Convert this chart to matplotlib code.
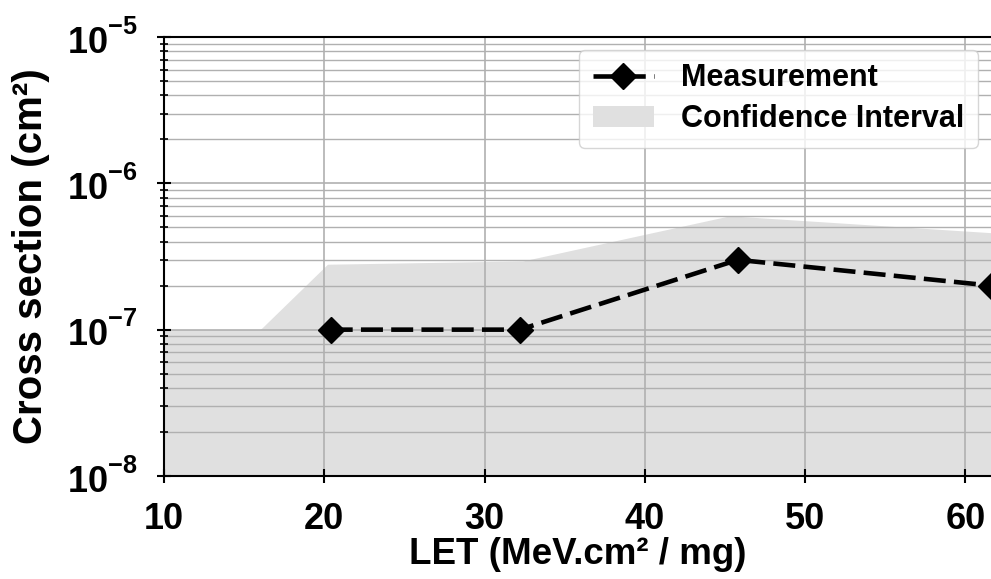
import matplotlib
matplotlib.use("Agg")
import matplotlib.pyplot as plt
try:
    import matplotlib._mathtext as _mt
    _mt.FontConstantsBase.sup1 = 0.95
except Exception:
    pass

plt.rcParams['font.family'] = ['Liberation Sans', 'DejaVu Sans']
plt.rcParams['font.weight'] = 'bold'
plt.rcParams['mathtext.fontset'] = 'custom'
plt.rcParams['mathtext.rm'] = 'Liberation Sans:bold'
plt.rcParams['mathtext.bf'] = 'Liberation Sans:bold'
plt.rcParams['mathtext.default'] = 'bf'

# Data
let_values = [20.4, 32.2, 45.8, 61.6]
cross_section = [1e-7, 1e-7, 3.0e-7, 2.0e-7]
ci_let = [10.0, 16.0, 20.2, 32.4, 45.3, 61.6]
ci_upper = [1e-7, 1e-7, 2.8e-7, 2.95e-7, 6.0e-7, 4.6e-7]
ci_lower = [1e-9, 1e-9, 1e-9, 1e-9, 1e-9, 1e-9]
x_ticks = [10, 20, 30, 40, 50, 60]

fig = plt.figure(figsize=(9.91, 5.79), dpi=100)
ax = fig.add_axes([0.1655, 0.178, 0.8345, 0.758])

ax.plot(let_values, cross_section, linestyle='--', dashes=(4.8, 1.8),
        color='black', linewidth=3.3,
        marker='D', markersize=13.5, label='Measurement', zorder=3, clip_on=True)
ax.fill_between(ci_let, ci_lower, ci_upper, color='#e0e0e0', linewidth=0,
                label='Confidence Interval', zorder=0.2)

ax.set_yscale('log')
ax.set_ylim(1e-8, 1e-5)
ax.set_xlim(10, 61.6)
ax.set_xticks(x_ticks)

ax.set_axisbelow(True)
ax.grid(True, which='major', color='#b0b0b0', linewidth=1.2)
ax.grid(True, which='minor', axis='y', color='#b0b0b0', linewidth=1.0)

ax.tick_params(axis='both', which='major', labelsize=26, direction='inout',
               length=10, width=1.5)
ax.tick_params(axis='y', which='minor', direction='inout', length=6, width=1.2)
ax.tick_params(axis='y', which='major', pad=14)
ax.tick_params(axis='x', which='major', pad=14)
for lbl in ax.get_xticklabels() + ax.get_yticklabels():
    lbl.set_fontweight('bold')

ax.spines['right'].set_visible(False)
for s in ['left', 'bottom', 'top']:
    ax.spines[s].set_linewidth(1.5)

ax.set_xlabel('LET (MeV.cm² / mg)', fontsize=26.5, fontweight='bold', labelpad=0)
ax.set_ylabel('Cross section (cm²)', fontsize=29, fontweight='bold', labelpad=12)

leg = ax.legend(loc='upper right', fontsize=22, frameon=True, fancybox=True,
                framealpha=0.8, handlelength=2.0, borderpad=0.45, labelspacing=0.35,
                handletextpad=0.9, bbox_to_anchor=(1.003, 1.006))
for t in leg.get_texts():
    t.set_fontweight('bold')

fig.savefig('out.png', dpi=100)
